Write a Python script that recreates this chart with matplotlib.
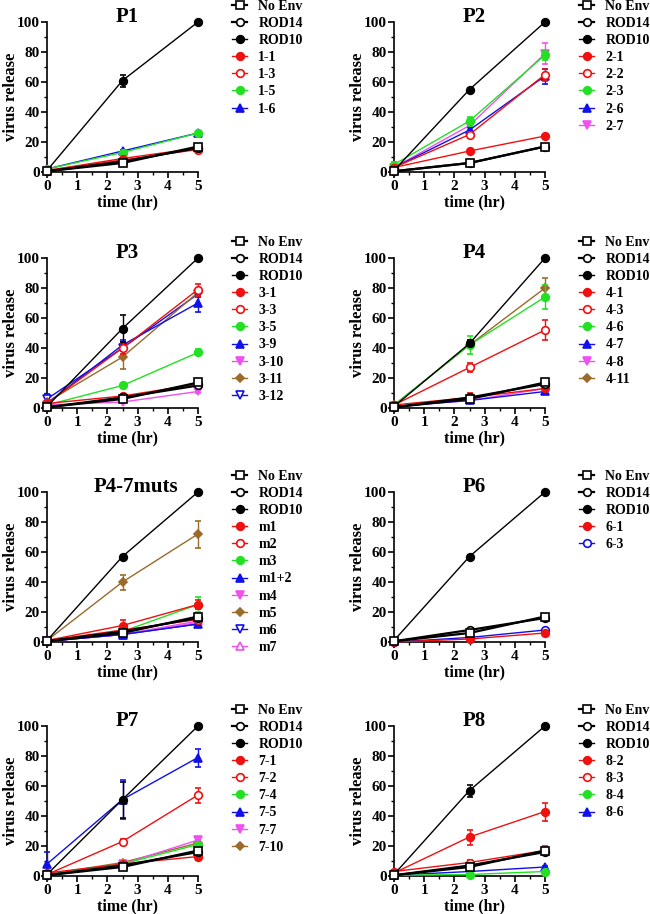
import matplotlib
matplotlib.use("Agg")
import matplotlib.pyplot as plt
from matplotlib.lines import Line2D
from matplotlib.ticker import MultipleLocator

plt.rcParams["font.family"] = "Liberation Serif"
plt.rcParams["font.weight"] = "bold"

time = [0, 2.5, 5]

# ---- panel data: labels, values at 0 / 2.5 / 5 hr, error bars ----
p1_title = "P1"
p1_labels = ["No Env", "ROD14", "ROD10", "1-1", "1-3", "1-5", "1-6"]
p1_values = [[0.5, 6, 17], [0.5, 7, 16], [1, 61, 100], [1, 9, 16],
             [1, 8, 15], [2, 13, 26], [2, 14, 26]]
p1_errors = [[0, 1, 1], [0, 1, 1], [0, 4, 0], [0, 1, 1],
             [0, 1, 1], [0, 1, 1], [0, 1, 1]]

p2_title = "P2"
p2_labels = ["No Env", "ROD14", "ROD10", "2-1", "2-2", "2-3", "2-6", "2-7"]
p2_values = [[0.5, 6, 17], [0.5, 6, 17], [1, 55, 100], [3, 14, 24],
             [3, 25, 65], [5, 34, 78], [3, 28, 64], [3, 31, 79]]
p2_errors = [[0, 1, 1], [0, 1, 1], [0, 1, 0], [1, 1, 1],
             [1, 2, 4], [2, 3, 3], [1, 2, 5], [1, 2, 7]]

p3_title = "P3"
p3_labels = ["No Env", "ROD14", "ROD10", "3-1", "3-3", "3-5", "3-9",
             "3-10", "3-11", "3-12"]
p3_values = [[0.5, 6, 17], [0.5, 7, 15], [1, 53, 100], [3, 8, 16],
             [3, 40, 79], [2, 15, 37], [3, 42, 70], [2, 4, 11],
             [4, 34, 77], [6, 40, 76]]
p3_errors = [[0, 1, 1], [0, 1, 1], [0, 9, 0], [1, 1, 1],
             [1, 4, 4], [1, 1, 2], [1, 3, 6], [1, 1, 1],
             [1, 8, 2], [3, 2, 2]]

p4_title = "P4"
p4_labels = ["No Env", "ROD14", "ROD10", "4-1", "4-3", "4-6", "4-7",
             "4-8", "4-11"]
p4_values = [[0.5, 6, 17], [0.5, 7, 16], [1, 43, 100], [2, 7, 13],
             [2, 27, 52], [2, 42, 74], [1, 5, 11], [1, 5, 13], [2, 42, 80]]
p4_errors = [[0, 1, 1], [0, 1, 1], [0, 2, 0], [1, 3, 1],
             [1, 3, 7], [1, 6, 8], [0, 1, 1], [0, 1, 1], [1, 2, 7]]

p5_title = "P4-7muts"
p5_labels = ["No Env", "ROD14", "ROD10", "m1", "m2", "m3", "m1+2", "m4",
             "m5", "m6", "m7"]
p5_values = [[0.5, 6, 17], [0.5, 7, 16], [1, 57, 100], [1, 11, 25],
             [1, 8, 15], [1, 7, 25], [0.5, 5, 12], [0.5, 5, 13],
             [1, 40, 72], [0.5, 5, 12], [0.5, 5, 14]]
p5_errors = [[0, 1, 1], [0, 1, 1], [0, 1, 0], [0, 4, 3],
             [0, 1, 1], [0, 1, 5], [0, 1, 1], [0, 1, 1],
             [0, 5, 9], [0, 1, 1], [0, 1, 1]]

p6_title = "P6"
p6_labels = ["No Env", "ROD14", "ROD10", "6-1", "6-3"]
p6_values = [[0.5, 6, 17], [0.5, 8, 16], [1, 57, 100], [0, 2, 6], [0, 3, 8]]
p6_errors = [[0, 1, 1], [0, 1, 1], [0, 1, 0], [0, 1, 1], [0, 1, 1]]

p7_title = "P7"
p7_labels = ["No Env", "ROD14", "ROD10", "7-1", "7-2", "7-4", "7-5",
             "7-7", "7-10"]
p7_values = [[0.5, 6, 17], [0.5, 7, 16], [1, 51, 100], [2, 8, 13],
             [1, 23, 54], [1, 8, 21], [8, 51, 79], [1, 8, 24], [1, 9, 22]]
p7_errors = [[0, 1, 1], [0, 1, 1], [0, 12, 0], [1, 1, 2],
             [0, 2, 5], [0, 1, 1], [8, 13, 6], [0, 1, 2], [0, 1, 1]]

p8_title = "P8"
p8_labels = ["No Env", "ROD14", "ROD10", "8-2", "8-3", "8-4", "8-6"]
p8_values = [[0.5, 6, 17], [0.5, 7, 16], [1, 57, 100], [2, 26, 43],
             [3, 9, 17], [0.5, 1, 3], [0.5, 3, 6]]
p8_errors = [[0, 1, 1], [0, 1, 1], [0, 4, 0], [1, 5, 6],
             [1, 2, 3], [0, 1, 1], [0, 1, 1]]

# ---- marker styles (color, marker, filled) ----
RED = "#f01010"
GREEN = "#22e022"
BLUE = "#1010e8"
MAGENTA = "#f050f0"
BROWN = "#9a6a2a"
STYLES = {
    "sq": ("black", "s", False),
    "oc": ("black", "o", False),
    "fc": ("black", "o", True),
    "rf": (RED, "o", True),
    "ro": (RED, "o", False),
    "gf": (GREEN, "o", True),
    "bt": (BLUE, "^", True),
    "mv": (MAGENTA, "v", True),
    "nd": (BROWN, "D", True),
    "bv": (BLUE, "v", False),
    "mt": (MAGENTA, "^", False),
    "bo": (BLUE, "o", False),
}
CTRL = ["sq", "oc", "fc"]

panels = [
    (p1_title, p1_labels, p1_values, p1_errors, CTRL + ["rf", "ro", "gf", "bt"]),
    (p2_title, p2_labels, p2_values, p2_errors, CTRL + ["rf", "ro", "gf", "bt", "mv"]),
    (p3_title, p3_labels, p3_values, p3_errors,
     CTRL + ["rf", "ro", "gf", "bt", "mv", "nd", "bv"]),
    (p4_title, p4_labels, p4_values, p4_errors,
     CTRL + ["rf", "ro", "gf", "bt", "mv", "nd"]),
    (p5_title, p5_labels, p5_values, p5_errors,
     CTRL + ["rf", "ro", "gf", "bt", "mv", "nd", "bv", "mt"]),
    (p6_title, p6_labels, p6_values, p6_errors, CTRL + ["rf", "bo"]),
    (p7_title, p7_labels, p7_values, p7_errors,
     CTRL + ["rf", "ro", "gf", "bt", "mv", "nd"]),
    (p8_title, p8_labels, p8_values, p8_errors, CTRL + ["rf", "ro", "gf", "bt"]),
]

W, H = 650, 914
fig = plt.figure(figsize=(W / 100, H / 100), dpi=100)

col_left = [47, 394]
row_top = [22, 258, 492, 726]
ax_w, ax_h = 151, 150

for i, (title, labels, values, errors, styles) in enumerate(panels):
    r, c = divmod(i, 2)
    left = col_left[c] / W
    bottom = 1 - (row_top[r] + ax_h) / H
    ax = fig.add_axes([left, bottom, ax_w / W, ax_h / H])

    handles = []
    for k in range(len(labels)):
        color, marker, filled = STYLES[styles[k]]
        ms = 4.5 if marker == "D" else 5.5
        mfc = color if filled else "white"
        lw = 1.6 if k < 2 else 1.0
        ax.errorbar(time, values[k], yerr=errors[k], color=color,
                    marker=marker, ms=ms, mfc=mfc, mec=color, mew=1.2, lw=lw,
                    elinewidth=1.0, capsize=2.5, capthick=1.0,
                    zorder=20 - k, clip_on=False)
        handles.append(Line2D([], [], color=color, marker=marker, ms=ms,
                              mfc=mfc, mec=color, mew=1.2, lw=lw,
                              label=labels[k]))

    ax.set_xlim(0, 5)
    ax.set_ylim(0, 100)
    ax.xaxis.set_major_locator(MultipleLocator(1))
    ax.xaxis.set_minor_locator(MultipleLocator(0.5))
    ax.yaxis.set_major_locator(MultipleLocator(20))
    ax.yaxis.set_minor_locator(MultipleLocator(10))
    for s in ["top", "right"]:
        ax.spines[s].set_visible(False)
    for s in ["left", "bottom"]:
        ax.spines[s].set_linewidth(1.2)
    ax.tick_params(which="major", direction="out", length=4, width=1.2,
                   labelsize=11, pad=1)
    ax.tick_params(which="minor", direction="out", length=2.5, width=1.0)
    ax.tick_params(axis="x", pad=2)

    ax.set_xlabel("time (hr)", fontsize=11.5, fontweight="bold")
    ax.xaxis.set_label_coords(0.53, -0.15)
    ax.set_ylabel("virus release", fontsize=12, fontweight="bold")
    ax.yaxis.set_label_coords(-0.185, 0.5)

    tx = 0.59 if title == "P4-7muts" else 0.53
    ax.text(tx, 1.0, title, transform=ax.transAxes, ha="center",
            va="baseline", fontsize=15, fontweight="bold")

    ax.legend(handles=handles, loc="upper left", bbox_to_anchor=(1.225, 1.15),
              frameon=False, handlelength=1.1, handletextpad=0.8,
              labelspacing=0.3, borderpad=0, borderaxespad=0,
              prop={"weight": "bold", "size": 10})

fig.savefig("out.png", dpi=100)
